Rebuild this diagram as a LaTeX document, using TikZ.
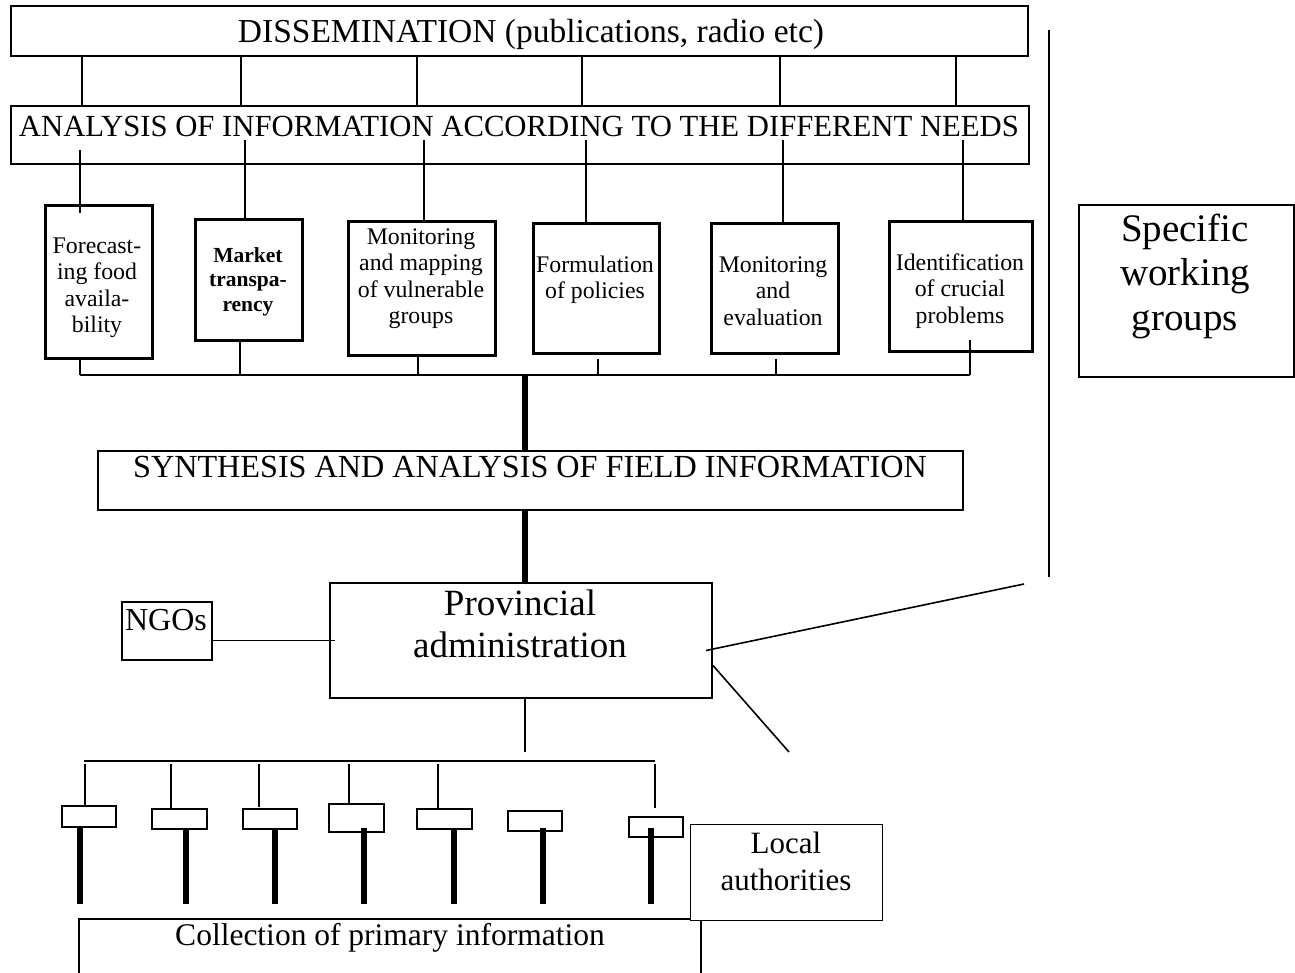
\documentclass[tikz,border=0pt]{standalone}
\usepackage{fontspec}
\setmainfont{Liberation Serif}
\newcommand\setfs[2]{\fontsize{#1}{#2}\selectfont}
\begin{document}
\begin{tikzpicture}[x=1pt,y=-1pt,
  frame/.style={draw, line width=2pt, inner sep=0pt, anchor=north west},
  catbox/.style={draw, line width=2.6pt, inner sep=0pt, anchor=north west},
  tapbox/.style={draw, line width=2.4pt, inner sep=0pt, anchor=north west},
  label/.style={inner sep=0pt, align=center, anchor=base},
  cat/.style={label, font=\setfs{23.8}{26.5}},
  conn/.style={line width=1.6pt},
  trunk/.style={line width=5.5pt},
  ]
\useasboundingbox (0,0) rectangle (1295,972);

% top bars (multi-line labels are anchored on the baseline of their last line)
\node[frame, minimum width=1017pt, minimum height=50pt] (diss) at (10,5) {};
\node[label, font=\setfs{33.5}{36}] (disst) at (531,42) {DISSEMINATION (publications, radio etc)};
\node[frame, minimum width=1018pt, minimum height=58pt] (ana) at (10,105) {};
\node[label, font=\setfs{30.7}{34}] (anat) at (519,136) {ANALYSIS OF INFORMATION ACCORDING TO THE DIFFERENT NEEDS};
\foreach \x in {82,241,417,582,780,956}
  \draw[conn] (diss.south -| \x,0) -- (ana.north -| \x,0);

% thematic analyses
\node[catbox, minimum width=107pt, minimum height=153pt] (fc) at (44,204) {};
\node[cat] (fct) at (97,332.5) {Forecast-\\ing food\\availa-\\bility};
\node[catbox, minimum width=107pt, minimum height=121pt] (mt) at (194,218) {};
\node[cat, font=\setfs{21.5}{24.5}\bfseries] (mtt) at (248,311) {Market\\transpa-\\rency};
\node[catbox, minimum width=147pt, minimum height=134pt] (mm) at (347,220) {};
\node[cat] (mmt) at (421,323.5) {Monitoring\\and mapping\\of vulnerable\\groups};
\node[catbox, minimum width=126pt, minimum height=130pt] (fp) at (532,222) {};
\node[cat] (fpt) at (595,298.5) {Formulation\\of policies};
\node[catbox, minimum width=127pt, minimum height=130pt] (me) at (710,222) {};
\node[cat] (met) at (773,325) {Monitoring\\and\\evaluation};
\node[catbox, minimum width=143pt, minimum height=130pt] (ic) at (888,220) {};
\node[cat] (ict) at (960,323) {Identification\\of crucial\\problems};

% feeds from the analysis bar
\coordinate (a1) at (80,150);  \draw[conn] (a1) -- ([yshift=-9pt]a1 |- fc.north);
\coordinate (a2) at (245,140); \draw[conn] (a2) -- (a2 |- mt.north);
\coordinate (a3) at (424,140); \draw[conn] (a3) -- (a3 |- mm.north);
\coordinate (a4) at (586,140); \draw[conn] (a4) -- (a4 |- fp.north);
\coordinate (a5) at (783,140); \draw[conn] (a5) -- (a5 |- me.north);
\coordinate (a6) at (963,140); \draw[conn] (a6) -- (a6 |- ic.north);

% collecting bus
\coordinate (busL) at (80,375);
\coordinate (busR) at (970,375);
\coordinate (busM) at (525,375);
\draw[conn] (busL) -- (busR);
\draw[conn] ([yshift=2pt]busL |- fc.south) -- (busL);
\draw[conn] ([yshift=3pt]240,0 |- mt.south) -- (240,0 |- busL);
\draw[conn] (418,0 |- mm.south) -- (418,0 |- busL);
\draw[conn] ([yshift=-4pt]598,0 |- fp.south) -- (598,0 |- busL);
\draw[conn] ([yshift=-4pt]776,0 |- me.south) -- (776,0 |- busL);
\draw[conn] ([yshift=13pt]busR |- ic.south) -- (busR);

% synthesis
\node[frame, minimum width=865pt, minimum height=59pt] (syn) at (97,450) {};
\node[label, font=\setfs{32.2}{35}] (synt) at (530,477) {SYNTHESIS AND ANALYSIS OF FIELD INFORMATION};
\draw[trunk] (busM) -- (syn.north -| busM);

% provincial level
\node[frame, minimum width=382pt, minimum height=115pt] (prov) at (329,582) {};
\node[label, font=\setfs{37}{42}] (provt) at (520,657) {Provincial\\administration};
\draw[trunk] (syn.south -| busM) -- (prov.north -| busM);
\node[frame, minimum width=90pt, minimum height=58pt] (ngo) at (121,601) {};
\node[label, font=\setfs{32}{36}] (ngot) at (166,630) {NGOs};
\draw[conn] (ngo.east |- prov.west) -- ([xshift=6pt]prov.west);

% working groups
\node[frame, minimum width=215pt, minimum height=172pt] (swg) at (1078,204) {};
\node[label, font=\setfs{39}{44.5}] (swgt) at (1185,330) {Specific\\working\\groups};
\coordinate (vtop) at (1049,30);
\coordinate (vbot) at (1049,577);
\draw[line width=2pt] (vtop) -- (vbot);
\coordinate (wgEnd) at (1024,584);
\coordinate (laEnd) at (789,752);
\draw[conn] ([xshift=-7pt,yshift=-10pt]prov.east) -- (wgEnd);
\draw[conn] ([yshift=-25pt]prov.east) -- (laEnd);

% local level
\coordinate (pd) at (525,752);
\draw[conn] (prov.south -| pd) -- (pd);
\coordinate (lbL) at (84,761);
\coordinate (lbR) at (655,761);
\draw[conn] (lbL) -- (lbR);

\node[tapbox, minimum width=54pt, minimum height=21pt] (s1) at (61,805) {};
\node[tapbox, minimum width=55pt, minimum height=20pt] (s2) at (151,808) {};
\node[tapbox, minimum width=54pt, minimum height=20pt] (s3) at (242,808) {};
\node[tapbox, minimum width=55pt, minimum height=28pt] (s4) at (328,803) {};
\node[tapbox, minimum width=55pt, minimum height=20pt] (s5) at (416,808) {};
\node[tapbox, minimum width=54pt, minimum height=20pt] (s6) at (507,810) {};
\node[tapbox, minimum width=54pt, minimum height=20pt] (s7) at (628,816) {};

\draw[conn] (85,764) -- (85,0 |- s1.north);
\draw[conn] (171,764) -- ([yshift=-2pt]171,0 |- s2.north);
\draw[conn] (259,764) -- ([yshift=1pt]259,0 |- s3.north);
\draw[conn] (349,764) -- (349,0 |- s4.north);
\draw[conn] (438,764) -- (438,0 |- s5.north);
\draw[conn] (655,764) -- ([yshift=8pt]655,0 |- s7.north);

% collection
\node[draw, line width=1.6pt, inner sep=0pt, anchor=north west, minimum width=622pt, minimum height=80pt] (col) at (78,918) {};
\node[label, font=\setfs{31.5}{35}] (colt) at (390,945) {Collection of primary information};
\foreach \x in {80,186,275,364,454,543,651}
  \draw[trunk] (\x,828) -- ([yshift=14pt]\x,0 |- col.north);
\node[draw, fill=white, line width=1pt, inner sep=0pt, anchor=north west, minimum width=192pt, minimum height=96pt] (loc) at (690,824) {};
\node[label, font=\setfs{31}{37}] (loct) at (786,890) {Local\\authorities};
\end{tikzpicture}
\end{document}
